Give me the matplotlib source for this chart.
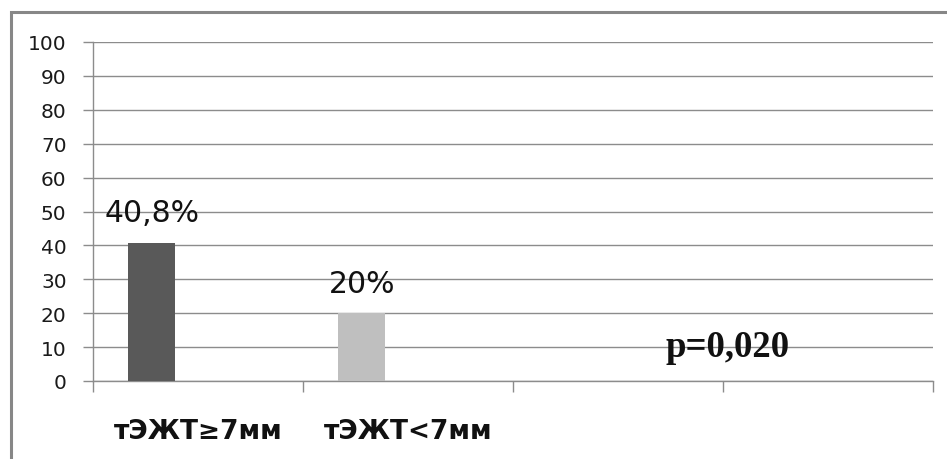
import matplotlib
matplotlib.use("Agg")
import matplotlib.pyplot as plt
from matplotlib.patches import Rectangle
import numpy as np

# Data
categories = ["тЭЖТ≥7мм", "тЭЖТ<7мм", "", ""]
values = [40.8, 20.0, None, None]
bar_colors = ["#595959", "#BFBFBF", "#595959", "#BFBFBF"]
y_ticks = [0, 10, 20, 30, 40, 50, 60, 70, 80, 90, 100]
p_text = "p=0,020"

W, H = 947, 460
fig = plt.figure(figsize=(W / 100, H / 100), dpi=100)
fig.patch.set_facecolor("white")

sans = ["DejaVu Sans"]

# Outer chart frame
fig.patches.append(Rectangle((11 / W, -0.1), 1.2, (H - 13) / H + 0.1,
                             transform=fig.transFigure, fill=False,
                             edgecolor="#878787", linewidth=2.2, clip_on=False))

ax = fig.add_axes([93 / W, (H - 382) / H, (933 - 93) / W, (382 - 43) / H])
grid_c = "#8c8c8c"

x = np.arange(len(categories))
bar_w = 0.224
offset = -0.22
for i, v in enumerate(values):
    if v is None:
        continue
    ax.bar(x[i] + offset, v, width=bar_w, color=bar_colors[i], zorder=3)
    ax.annotate(f"{v:g}%".replace(".", ","), (x[i] + offset, v),
                xytext=(0, 15.5), textcoords="offset points",
                ha="center", va="baseline", fontsize=21.5,
                family=sans, color="#111111", zorder=4)

ax.set_xlim(-0.5, len(categories) - 0.5)
ax.set_ylim(0, 100)
ax.set_yticks(y_ticks)
ax.set_yticklabels([str(t) for t in y_ticks], family=sans, fontsize=14.5,
                   color="#1a1a1a")
ax.yaxis.grid(True, color=grid_c, linewidth=1.0, zorder=0)
ax.set_axisbelow(True)

ax.set_xticks(x)
ax.set_xticklabels(categories, family=sans, fontsize=19, fontweight="bold",
                   color="#111111")
ax.set_xticks(np.arange(len(categories) + 1) - 0.5, minor=True)
ax.tick_params(axis="x", which="major", length=0, pad=27)
ax.tick_params(axis="x", which="minor", length=8, color=grid_c, width=1.0)
ax.tick_params(axis="y", length=7, color=grid_c, width=1.0, pad=12)

for side in ["top", "right"]:
    ax.spines[side].set_visible(False)
for side in ["left", "bottom"]:
    ax.spines[side].set_color(grid_c)
    ax.spines[side].set_linewidth(1.0)

ax.text(2.52, 10.3, p_text, ha="center", va="center", fontsize=26.5,
        fontweight="bold", family=["Liberation Serif", "DejaVu Serif"],
        color="#111111", zorder=4)

fig.savefig("out.png", dpi=100, facecolor="white")
